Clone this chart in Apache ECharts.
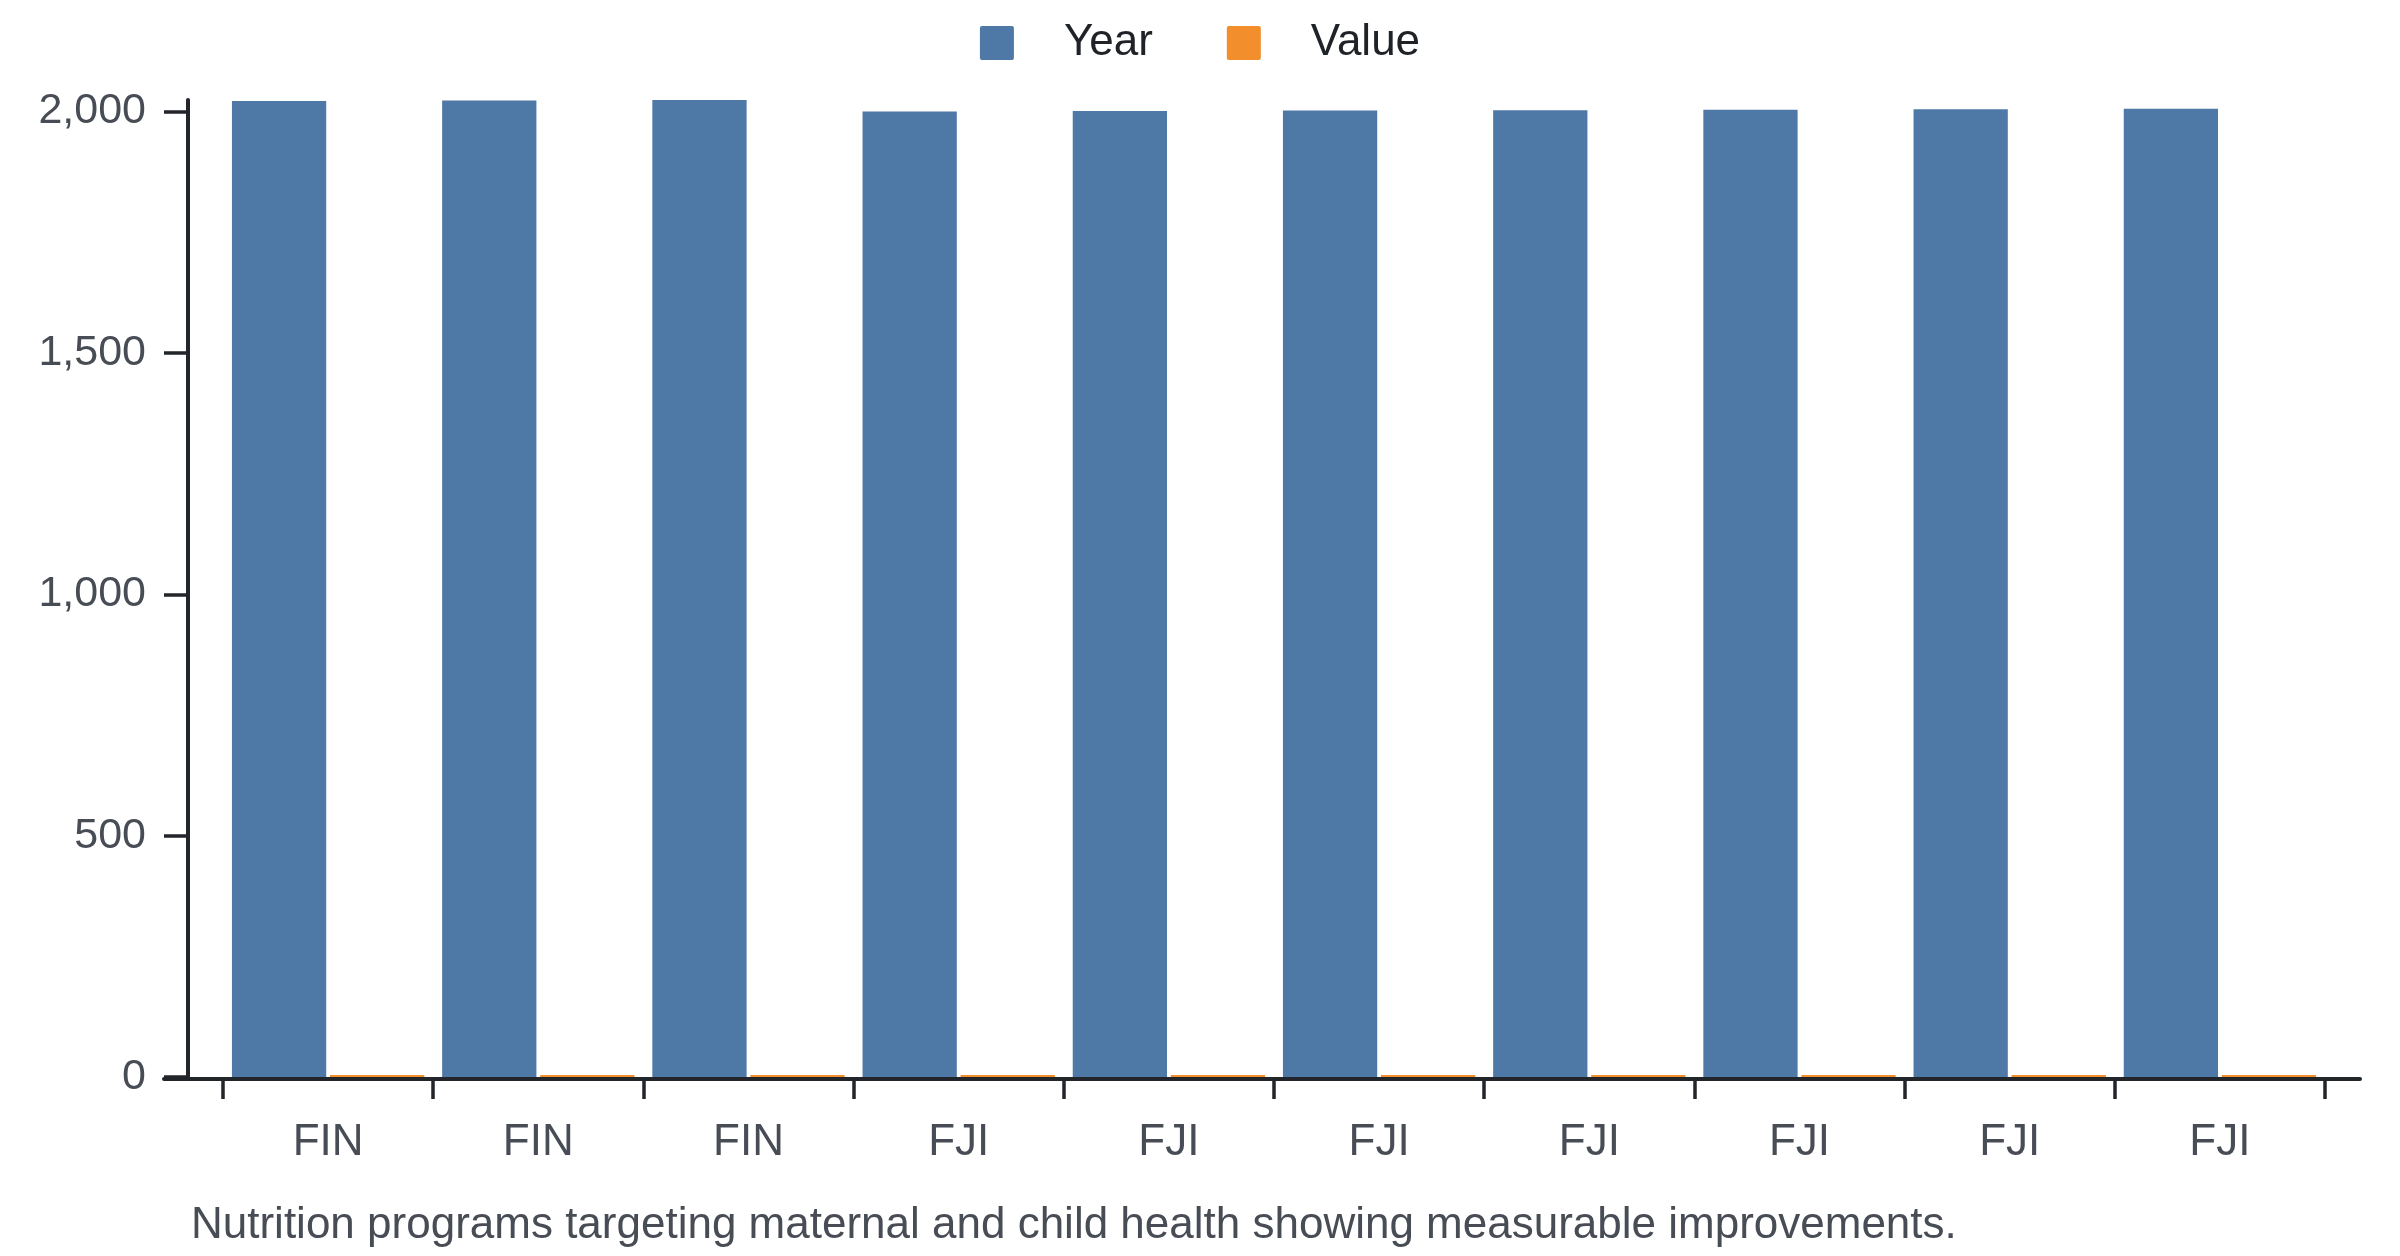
<!DOCTYPE html>
<html>
<head>
<meta charset="utf-8">
<script src="https://cdn.jsdelivr.net/npm/echarts@6/dist/echarts.min.js"></script>
<style>
  html, body { margin: 0; padding: 0; background: #fff; }
  #chart { width: 2400px; height: 1256px; }
</style>
</head>
<body>
<div id="chart"></div>
<script>
// data
const countries = ['FIN', 'FIN', 'FIN', 'FJI', 'FJI', 'FJI', 'FJI', 'FJI', 'FJI', 'FJI'];
const yearValues = [2022, 2023, 2024, 2000, 2001, 2002, 2003, 2004, 2005, 2006];
const valueValues = [4, 4, 4, 4, 4, 4, 4, 4, 4, 4];
const yTicks = [0, 500, 1000, 1500, 2000];
const caption = 'Nutrition programs targeting maternal and child health showing measurable improvements.';

const axisColor = '#222529';
const labelColor = '#474c55';
const fontFamily = '"Liberation Sans", Arial, sans-serif';

let chart = echarts.init(document.getElementById('chart'), null, { renderer: 'canvas' });

let option = {
    backgroundColor: '#fff',
    animation: false,
    color: ['#4e79a7', '#f28e2c'],
    textStyle: { fontFamily: fontFamily },
    title: {
        text: caption,
        left: 186,
        top: 1199,
        textStyle: {
            fontFamily: fontFamily,
            fontSize: 44,
            fontWeight: 'normal',
            color: labelColor
        }
    },
    legend: {
        top: 16,
        left: 'center',
        itemWidth: 34,
        itemHeight: 34,
        itemGap: 74,
        icon: 'path://M2,0 L32,0 Q34,0 34,2 L34,32 Q34,34 32,34 L2,34 Q0,34 0,32 L0,2 Q0,0 2,0 Z',
        textStyle: {
            fontFamily: fontFamily,
            fontSize: 44,
            color: '#1f2226',
            padding: [0, 0, 0, 45]
        },
        data: ['Year', 'Value']
    },
    grid: [
        // main plot, spans the category bands
        { left: 223, right: 75, top: 100, bottom: 179 },
        // only used for the long baseline, sits just under the bars
        { left: 164, right: 40, top: 100, bottom: 177 }
    ],
    xAxis: [
        {
            type: 'category',
            gridIndex: 0,
            data: countries,
            axisLine: { show: false },
            axisTick: {
                show: true,
                length: 22,
                lineStyle: { color: axisColor, width: 3.5 }
            },
            axisLabel: {
                margin: 44,
                fontFamily: fontFamily,
                fontSize: 44,
                color: labelColor
            }
        },
        {
            type: 'value',
            gridIndex: 1,
            min: 0,
            max: 1,
            axisLine: { show: true, lineStyle: { color: axisColor, width: 4 } },
            axisTick: { show: false },
            axisLabel: { show: false },
            splitLine: { show: false }
        }
    ],
    yAxis: [
        {
            type: 'value',
            gridIndex: 0,
            min: 0,
            max: 'dataMax',
            offset: 35,
            axisLine: { show: true, lineStyle: { color: axisColor, width: 4 } },
            axisTick: {
                show: true,
                length: 24,
                customValues: yTicks,
                lineStyle: { color: axisColor, width: 3.5 }
            },
            axisLabel: {
                margin: 42,
                customValues: yTicks,
                fontFamily: fontFamily,
                fontSize: 43,
                color: labelColor,
                formatter: (v) => v.toLocaleString('en-US')
            },
            splitLine: { show: false }
        },
        {
            type: 'value',
            gridIndex: 1,
            show: false
        }
    ],
    series: [
        {
            name: 'Year',
            type: 'bar',
            xAxisIndex: 0,
            yAxisIndex: 0,
            data: yearValues,
            barCategoryGap: '8.5%',
            barGap: '4%'
        },
        {
            name: 'Value',
            type: 'bar',
            xAxisIndex: 0,
            yAxisIndex: 0,
            data: valueValues,
            barCategoryGap: '8.5%',
            barGap: '4%'
        }
    ]
};

chart.setOption(option);
</script>
</body>
</html>
